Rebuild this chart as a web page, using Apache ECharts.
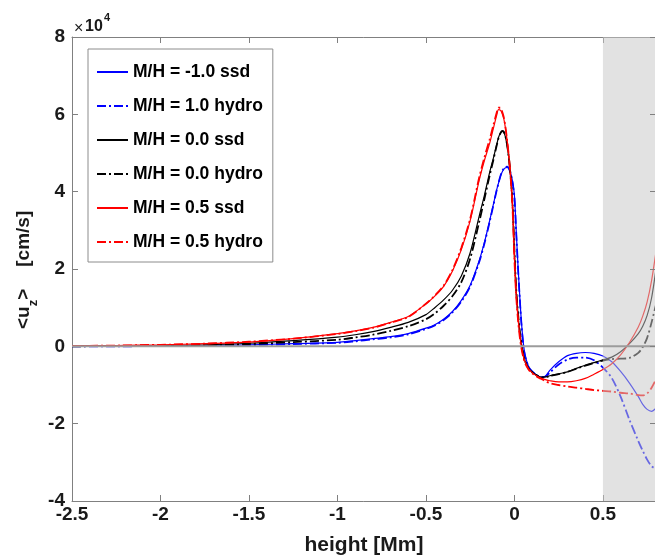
<!DOCTYPE html>
<html>
<head>
<meta charset="utf-8">
<script src="https://cdn.jsdelivr.net/npm/echarts@6/dist/echarts.min.js"></script>
<style>html,body{margin:0;padding:0;background:#fff}#c{width:655px;height:555px}</style>
</head>
<body>
<div id="c"></div>
<script>
// height [Mm]
const X = [-2.5, -2.25, -2.0, -1.75, -1.5, -1.25, -1.0, -0.9, -0.8, -0.7,
  -0.6, -0.5, -0.45, -0.4, -0.35, -0.3, -0.25, -0.2, -0.17, -0.14,
  -0.12, -0.1, -0.09, -0.08, -0.07, -0.06, -0.05, -0.04, -0.03, -0.02,
  -0.01, 0.0, 0.01, 0.02, 0.03, 0.04, 0.05, 0.06, 0.08, 0.1,
  0.125, 0.15, 0.175, 0.2, 0.25, 0.3, 0.35, 0.4, 0.45, 0.5,
  0.55, 0.6, 0.65, 0.7, 0.725, 0.75, 0.775, 0.8];
// <u_z> in units of 1e4 cm/s
const BLUE_SSD = [0.00, 0.01, 0.01, 0.02, 0.04, 0.07, 0.10, 0.15, 0.20, 0.25,
  0.33, 0.47, 0.56, 0.70, 0.90, 1.19, 1.58, 2.20, 2.68, 3.25,
  3.65, 4.05, 4.22, 4.38, 4.50, 4.58, 4.62, 4.63, 4.58, 4.45,
  4.25, 3.90, 3.00, 2.10, 1.30, 0.60, 0.10, -0.22, -0.52, -0.65,
  -0.74, -0.80, -0.77, -0.62, -0.40, -0.24, -0.18, -0.16, -0.18, -0.25,
  -0.40, -0.65, -0.95, -1.30, -1.50, -1.63, -1.68, -1.60];
const BLUE_HYDRO = [0.00, 0.00, 0.01, 0.02, 0.03, 0.06, 0.09, 0.13, 0.18, 0.23,
  0.31, 0.45, 0.54, 0.68, 0.88, 1.16, 1.55, 2.17, 2.65, 3.22,
  3.63, 4.04, 4.22, 4.39, 4.52, 4.60, 4.64, 4.65, 4.59, 4.45,
  4.22, 3.85, 2.95, 2.05, 1.25, 0.55, 0.05, -0.25, -0.53, -0.65,
  -0.74, -0.80, -0.78, -0.68, -0.47, -0.34, -0.29, -0.29, -0.36, -0.55,
  -0.82, -1.30, -1.90, -2.45, -2.70, -2.93, -3.10, -3.17];
const BLACK_SSD = [0.01, 0.01, 0.02, 0.04, 0.08, 0.15, 0.24, 0.30, 0.38, 0.49,
  0.62, 0.82, 1.00, 1.20, 1.45, 1.82, 2.42, 3.35, 3.90, 4.50,
  4.85, 5.22, 5.40, 5.51, 5.56, 5.53, 5.40, 5.15, 4.80, 4.30,
  3.60, 2.45, 1.45, 0.85, 0.38, 0.05, -0.20, -0.38, -0.57, -0.66,
  -0.74, -0.80, -0.79, -0.76, -0.71, -0.66, -0.57, -0.49, -0.42, -0.35,
  -0.28, -0.14, 0.07, 0.33, 0.52, 0.80, 1.25, 2.00];
const BLACK_HYDRO = [0.00, 0.01, 0.02, 0.03, 0.06, 0.11, 0.17, 0.23, 0.30, 0.40,
  0.52, 0.70, 0.85, 1.05, 1.30, 1.66, 2.27, 3.20, 3.80, 4.42,
  4.80, 5.20, 5.38, 5.50, 5.57, 5.55, 5.42, 5.17, 4.82, 4.32,
  3.62, 2.48, 1.48, 0.87, 0.40, 0.06, -0.20, -0.38, -0.58, -0.67,
  -0.75, -0.81, -0.80, -0.77, -0.72, -0.66, -0.58, -0.50, -0.43, -0.37,
  -0.33, -0.32, -0.30, -0.17, -0.02, 0.22, 0.62, 1.08];
const RED_SSD = [0.01, 0.02, 0.04, 0.07, 0.11, 0.20, 0.33, 0.40, 0.49, 0.62,
  0.77, 1.10, 1.30, 1.55, 1.95, 2.50, 3.25, 4.28, 4.80, 5.25,
  5.62, 5.98, 6.12, 6.11, 6.03, 5.88, 5.62, 5.28, 4.85, 4.30,
  3.55, 2.30, 1.35, 0.75, 0.30, -0.02, -0.25, -0.40, -0.58, -0.68,
  -0.76, -0.82, -0.86, -0.89, -0.92, -0.92, -0.89, -0.83, -0.72, -0.60,
  -0.45, -0.22, 0.10, 0.50, 0.78, 1.15, 1.70, 2.45];
const RED_HYDRO = [0.01, 0.02, 0.04, 0.07, 0.12, 0.20, 0.32, 0.39, 0.48, 0.61,
  0.76, 1.10, 1.31, 1.57, 1.98, 2.55, 3.30, 4.35, 4.88, 5.35,
  5.70, 6.05, 6.17, 6.17, 6.08, 5.92, 5.65, 5.28, 4.85, 4.28,
  3.50, 2.25, 1.30, 0.70, 0.25, -0.06, -0.28, -0.43, -0.60, -0.70,
  -0.78, -0.84, -0.90, -0.95, -1.00, -1.04, -1.07, -1.10, -1.13, -1.15,
  -1.17, -1.20, -1.22, -1.26, -1.27, -1.22, -1.07, -0.85];
const NAMES = ['M/H = -1.0 ssd', 'M/H = 1.0 hydro', 'M/H = 0.0 ssd', 'M/H = 0.0 hydro', 'M/H = 0.5 ssd', 'M/H = 0.5 hydro'];
const X_TICKS = [-2.5, -2, -1.5, -1, -0.5, 0, 0.5];
const Y_TICKS = [-4, -2, 0, 2, 4, 6, 8];
const SHADE = [[0.5, 0.8]];

const FONT = '"Liberation Sans", Arial, Helvetica, sans-serif';
const DASHDOT = [9, 3, 2, 3];
function zip(ys) { return X.map((x, i) => [x, ys[i]]); }
function mk(name, ys, color, dashed) {
  return {
    name, type: 'line', data: zip(ys), symbol: 'none', showSymbol: false,
    smooth: 0.3, z: 2,
    lineStyle: { color, width: dashed ? 1.8 : 1.2, type: dashed ? DASHDOT : 'solid' },
    itemStyle: { color }
  };
}
const chart = echarts.init(document.getElementById('c'), null, { renderer: 'canvas' });

const ctx = document.createElement('canvas').getContext('2d');
function tw(t, f) { ctx.font = f; return ctx.measureText(t).width; }
const mainF = 'bold 19px ' + FONT, subF = 'bold 13px ' + FONT;
const w1 = tw('<u', mainF), w2 = tw('z', subF), w3 = tw('>', mainF);

const axisCommon = {
  type: 'value', axisLine: { show: true, onZero: false, lineStyle: { color: '#808080', width: 1 } },
  axisTick: { show: true, inside: true, length: 6, lineStyle: { color: '#808080' } },
  splitLine: { show: false }
};
const labelStyle = { color: '#1a1a1a', fontFamily: FONT, fontWeight: 'bold', fontSize: 19 };

chart.setOption({
  animation: false,
  backgroundColor: '#fff',
  grid: { left: 72, top: 37, width: 584, height: 464, containLabel: false, outerBoundsMode: 'none' },
  legend: {
    data: NAMES, orient: 'vertical', left: 88, top: 49,
    padding: [14, 10, 11, 8], itemGap: 16, itemWidth: 31, itemHeight: 14,
    backgroundColor: '#fff', borderColor: '#8c8c8c', borderWidth: 1, borderRadius: 0,
    itemStyle: { opacity: 0 },
    textStyle: { fontFamily: FONT, fontWeight: 'bold', fontSize: 17.5, lineHeight: 16, color: '#000' },
    selectedMode: false
  },
  xAxis: [
    Object.assign({}, axisCommon, {
      min: X_TICKS[0], max: 0.8, interval: 0.5, position: 'bottom',
      axisLabel: Object.assign({}, labelStyle, { margin: 4, formatter: v => X_TICKS.includes(v) ? String(v) : '' }),
      name: 'height [Mm]', nameLocation: 'middle', nameGap: 34,
      nameTextStyle: { color: '#1a1a1a', fontFamily: FONT, fontWeight: 'bold', fontSize: 21 }
    }),
    Object.assign({}, axisCommon, {
      min: X_TICKS[0], max: 0.8, interval: 0.5, position: 'top', axisLabel: { show: false }
    })
  ],
  yAxis: [
    Object.assign({}, axisCommon, {
      min: Y_TICKS[0], max: Y_TICKS[Y_TICKS.length - 1], interval: 2, position: 'left',
      axisLabel: Object.assign({}, labelStyle, { margin: 7 })
    }),
    Object.assign({}, axisCommon, {
      min: Y_TICKS[0], max: Y_TICKS[Y_TICKS.length - 1], interval: 2, position: 'right',
      axisLabel: { show: false }, z: 10
    })
  ],
  graphic: [
    { type: 'text', left: 74, top: 21, style: { text: '×', font: '16px ' + FONT, fill: '#1a1a1a' } },
    { type: 'text', left: 85, top: 19, style: { text: '10', font: 'bold 16px ' + FONT, fill: '#1a1a1a' } },
    { type: 'text', left: 104, top: 12, style: { text: '4', font: 'bold 11px ' + FONT, fill: '#1a1a1a' } },
    {
      type: 'group', x: 24, y: 329, rotation: Math.PI / 2,
      children: [
        { type: 'text', x: 0, y: 0, style: { text: '<u', font: mainF, fill: '#1a1a1a', verticalAlign: 'middle', align: 'left' } },
        { type: 'text', x: w1, y: 9, style: { text: 'z', font: subF, fill: '#1a1a1a', verticalAlign: 'middle', align: 'left' } },
        { type: 'text', x: w1 + w2, y: 0, style: { text: '>', font: mainF, fill: '#1a1a1a', verticalAlign: 'middle', align: 'left' } },
        { type: 'text', x: w1 + w2 + w3 + 22, y: 0, style: { text: '[cm/s]', font: mainF, fill: '#1a1a1a', verticalAlign: 'middle', align: 'left' } }
      ]
    }
  ],
  series: [
    mk(NAMES[0], BLUE_SSD, '#0000ff', false),
    mk(NAMES[1], BLUE_HYDRO, '#0000ff', true),
    mk(NAMES[2], BLACK_SSD, '#000000', false),
    mk(NAMES[3], BLACK_HYDRO, '#000000', true),
    mk(NAMES[4], RED_SSD, '#ff0000', false),
    mk(NAMES[5], RED_HYDRO, '#ff0000', true),
    {
      name: 'shade', type: 'custom', data: SHADE, z: 5, silent: true,
      renderItem: function (params, api) {
        const p1 = api.coord([api.value(0), Y_TICKS[Y_TICKS.length - 1]]);
        const p2 = api.coord([api.value(1), Y_TICKS[0]]);
        return { type: 'rect', shape: { x: p1[0], y: p1[1], width: p2[0] - p1[0], height: p2[1] - p1[1] },
          style: { fill: 'rgba(200,200,200,0.52)' } };
      }
    },
    {
      name: 'zero', type: 'line', data: [[X_TICKS[0], 0], [0.8, 0]], symbol: 'none', z: 6, silent: true,
      lineStyle: { color: '#9c9c9c', width: 2 }
    }
  ]
});
</script>
</body>
</html>
